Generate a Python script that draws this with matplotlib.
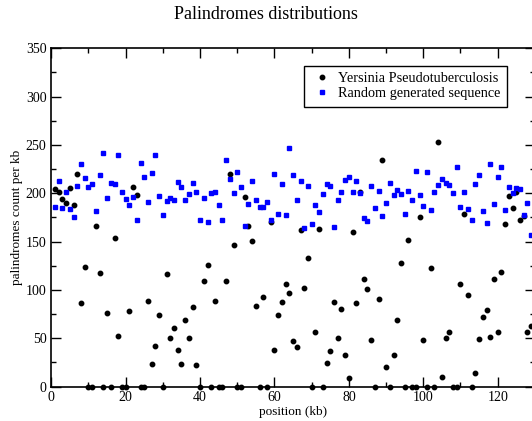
import numpy as np
import matplotlib
matplotlib.use("Agg")
import matplotlib.pyplot as plt
from matplotlib.ticker import MultipleLocator

plt.rcParams['font.family'] = ['Liberation Serif', 'DejaVu Serif']

# position along the genome (kb)
position = np.arange(1, 130)

# palindromes per kb, Yersinia Pseudotuberculosis
yersinia = [204, 201, 194, 190, 205, 188, 220, 86, 124, 0, 0, 166, 118, 0, 76, 0, 154, 52, 0, 0,
            78, 206, 198, 0, 0, 89, 23, 42, 74, 0, 116, 50, 61, 38, 23, 69, 50, 82, 22, 0,
            109, 126, 0, 89, 0, 0, 109, 220, 146, 0, 0, 196, 166, 151, 83, 0, 93, 0, 170, 38,
            74, 88, 106, 97, 47, 41, 162, 102, 133, 0, 56, 163, 0, 24, 37, 88, 50, 80, 33, 9,
            160, 87, 201, 111, 101, 48, 0, 91, 234, 20, 0, 33, 69, 128, 0, 152, 0, 0, 175, 48,
            0, 123, 0, 253, 10, 50, 57, 0, 0, 106, 179, 95, 0, 14, 49, 72, 79, 51, 111, 57,
            119, 168, 197, 185, 201, 172, 176, 56, 63]

# palindromes per kb, random sequence
random_seq = [186, 213, 185, 201, 184, 175, 208, 230, 216, 206, 210, 182, 219, 242, 195, 211, 210, 240, 201, 194,
              188, 196, 172, 231, 217, 191, 221, 240, 197, 178, 192, 195, 193, 212, 207, 193, 199, 211, 201, 172,
              195, 170, 200, 201, 188, 172, 234, 215, 200, 222, 207, 166, 189, 213, 193, 186, 186, 191, 172, 220,
              179, 210, 178, 247, 219, 193, 213, 164, 208, 168, 188, 181, 199, 210, 208, 165, 193, 201, 214, 217,
              201, 213, 200, 174, 171, 208, 185, 202, 177, 190, 211, 198, 203, 199, 179, 202, 193, 223, 198, 187,
              222, 183, 201, 209, 215, 211, 209, 200, 227, 186, 201, 184, 172, 210, 219, 182, 169, 230, 189, 217,
              227, 183, 206, 200, 205, 204, 178, 190, 157]

fig = plt.figure(figsize=(5.32, 4.21), dpi=100)
ax = fig.add_axes([0.0964, 0.0817, 0.909, 0.8036])

ax.plot(position, yersinia, 'o', color='black', markersize=3.2,
        label='Yersinia Pseudotuberculosis', clip_on=False)
ax.plot(position, random_seq, 's', color='blue', markersize=3.0,
        label='Random generated sequence', clip_on=False)

ax.set_xlim(0, 130)
ax.set_ylim(0, 350)
ax.xaxis.set_major_locator(MultipleLocator(20))
ax.xaxis.set_minor_locator(MultipleLocator(10))
ax.yaxis.set_major_locator(MultipleLocator(50))
ax.yaxis.set_minor_locator(MultipleLocator(25))
ax.tick_params(which='both', direction='in', top=True, right=True, labelsize=10, width=1)
ax.tick_params(which='major', length=7)
ax.tick_params(which='minor', length=3.5)
for s in ax.spines.values():
    s.set_linewidth(1.2)

ax.set_xlabel('position (kb)', fontsize=9.5, labelpad=1)
ax.set_ylabel('palindromes count per kb', fontsize=9.5, labelpad=2)
fig.suptitle('Palindromes distributions', fontsize=13, y=0.985)

leg = ax.legend(loc='upper right', bbox_to_anchor=(0.942, 0.948), fontsize=10.3,
                fancybox=False, framealpha=1, edgecolor='black', borderpad=0.45,
                borderaxespad=0, handletextpad=0.4, handlelength=1.5, labelspacing=0.15)
leg.get_frame().set_linewidth(1)

fig.savefig('out.png', dpi=100)
